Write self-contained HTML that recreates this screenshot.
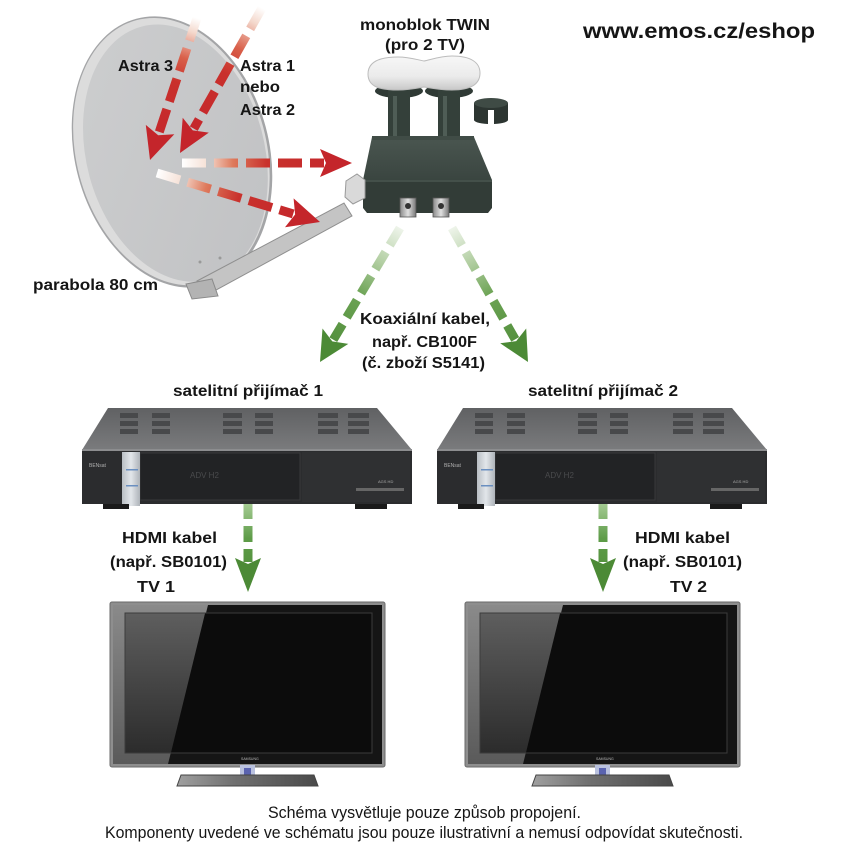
<!DOCTYPE html>
<html><head><meta charset="utf-8">
<style>
html,body{margin:0;padding:0;background:#fff;}
svg{display:block;}
text{font-family:"Liberation Sans",sans-serif;fill:#151515;}
.b{font-weight:bold;font-size:16px;}
.f{font-size:16.5px;}
</style></head><body>
<svg width="850" height="850" viewBox="0 0 850 850" xmlns="http://www.w3.org/2000/svg">
<defs>
 <linearGradient id="dishg" x1="0" y1="0" x2="1" y2="1">
  <stop offset="0" stop-color="#cdcecf"/><stop offset="1" stop-color="#c0c1c3"/>
 </linearGradient>
 <linearGradient id="rA3" gradientUnits="userSpaceOnUse" x1="197" y1="18" x2="150" y2="160">
  <stop offset="0" stop-color="#ffffff"/><stop offset="0.1" stop-color="#f4d8cc"/><stop offset="0.28" stop-color="#d9604a"/><stop offset="0.45" stop-color="#c9302c"/><stop offset="1" stop-color="#c3242b"/>
 </linearGradient>
 <linearGradient id="rA1" gradientUnits="userSpaceOnUse" x1="262" y1="8" x2="180" y2="153">
  <stop offset="0" stop-color="#ffffff"/><stop offset="0.1" stop-color="#f4d8cc"/><stop offset="0.28" stop-color="#d9604a"/><stop offset="0.45" stop-color="#c9302c"/><stop offset="1" stop-color="#c3242b"/>
 </linearGradient>
 <linearGradient id="rH" gradientUnits="userSpaceOnUse" x1="182" y1="163" x2="352" y2="163">
  <stop offset="0" stop-color="#ffffff"/><stop offset="0.14" stop-color="#f6e2d8"/><stop offset="0.3" stop-color="#de7a5c"/><stop offset="0.5" stop-color="#c9322d"/><stop offset="1" stop-color="#c3242b"/>
 </linearGradient>
 <linearGradient id="rD" gradientUnits="userSpaceOnUse" x1="157" y1="173" x2="320" y2="222">
  <stop offset="0" stop-color="#ffffff"/><stop offset="0.14" stop-color="#f6e2d8"/><stop offset="0.3" stop-color="#de7a5c"/><stop offset="0.5" stop-color="#c9322d"/><stop offset="1" stop-color="#c3242b"/>
 </linearGradient>
 <linearGradient id="gL" gradientUnits="userSpaceOnUse" x1="400" y1="228" x2="320" y2="362">
  <stop offset="0" stop-color="#eef4ea"/><stop offset="0.25" stop-color="#b3cfa3"/><stop offset="0.5" stop-color="#6ca354"/><stop offset="1" stop-color="#4a8935"/>
 </linearGradient>
 <linearGradient id="gR" gradientUnits="userSpaceOnUse" x1="452" y1="228" x2="528" y2="362">
  <stop offset="0" stop-color="#eef4ea"/><stop offset="0.25" stop-color="#b3cfa3"/><stop offset="0.5" stop-color="#6ca354"/><stop offset="1" stop-color="#4a8935"/>
 </linearGradient>
 <linearGradient id="gV" gradientUnits="userSpaceOnUse" x1="0" y1="503" x2="0" y2="592">
  <stop offset="0" stop-color="#a6cc94"/><stop offset="0.4" stop-color="#5e9c48"/><stop offset="1" stop-color="#4c8a36"/>
 </linearGradient>
 <linearGradient id="rtop" x1="0" y1="0" x2="0" y2="1">
  <stop offset="0" stop-color="#606163"/><stop offset="1" stop-color="#7a7b7d"/>
 </linearGradient>
 <linearGradient id="silver" x1="0" y1="0" x2="1" y2="0">
  <stop offset="0" stop-color="#b9bec4"/><stop offset="0.5" stop-color="#e2e6ea"/><stop offset="1" stop-color="#aeb3b9"/>
 </linearGradient>
 <linearGradient id="scrref" x1="0" y1="0" x2="0" y2="1">
  <stop offset="0" stop-color="#5e5e5e"/><stop offset="1" stop-color="#2c2c2c"/>
 </linearGradient>
 <linearGradient id="bezref" x1="0" y1="0" x2="0" y2="1">
  <stop offset="0" stop-color="#8a8a8a"/><stop offset="1" stop-color="#5a5a5a"/>
 </linearGradient>
 <linearGradient id="base" x1="0" y1="0" x2="1" y2="0">
  <stop offset="0" stop-color="#a0a0a0"/><stop offset="0.4" stop-color="#707070"/><stop offset="1" stop-color="#4a4a4a"/>
 </linearGradient>
 <linearGradient id="cap" x1="0" y1="0" x2="0" y2="1">
  <stop offset="0" stop-color="#f7f7f7"/><stop offset="0.6" stop-color="#ebebeb"/><stop offset="1" stop-color="#c8c8c8"/>
 </linearGradient>
 <linearGradient id="lnbtop" x1="0" y1="0" x2="0" y2="1">
  <stop offset="0" stop-color="#4a5650"/><stop offset="1" stop-color="#3a4540"/>
 </linearGradient>
 <linearGradient id="nut" x1="0" y1="0" x2="1" y2="0">
  <stop offset="0" stop-color="#8a8a8a"/><stop offset="0.5" stop-color="#e0e0e0"/><stop offset="1" stop-color="#777"/>
 </linearGradient>
</defs>

<!-- Dish -->
<g transform="rotate(-15 172 152)">
 <ellipse cx="172" cy="152" rx="97" ry="138" fill="#a4a5a7"/>
 <ellipse cx="171.5" cy="151.5" rx="95" ry="136" fill="#dcdcdc"/>
 <ellipse cx="175" cy="154" rx="89" ry="131" fill="url(#dishg)"/>
</g>
<circle cx="200" cy="262" r="1.5" fill="#999"/>
<circle cx="220" cy="258" r="1.5" fill="#999"/>
<!-- Arm -->
<polygon points="197,281 344,203 352,216 207,295" fill="#c4c4c4" stroke="#8f8f8f" stroke-width="1"/>
<polygon points="186,284 212,279 218,296 192,299" fill="#b3b3b3" stroke="#8a8a8a" stroke-width="1"/>

<!-- Red arrows -->
<g fill="none" stroke-width="9" stroke-dasharray="24 8">
 <line x1="197" y1="18" x2="158.8" y2="133.4" stroke="url(#rA3)"/>
 <line x1="262" y1="8" x2="193.8" y2="128.6" stroke="url(#rA1)"/>
 <line x1="182" y1="163" x2="324" y2="163" stroke="url(#rH)"/>
 <line x1="157" y1="173" x2="293.2" y2="213.9" stroke="url(#rD)"/>
</g>
<g fill="#c4252b">
 <polygon points="150,160 174.3,134.3 158.2,135.3 145.8,124.9"/>
 <polygon points="180,153 208.8,132.6 192.8,130.4 182.7,117.8"/>
 <polygon points="352,163 320,177 326,163 320,149"/>
 <polygon points="320,222 285,227.2 295.1,214.5 293.6,198.4"/>
</g>

<!-- LNB -->
<g>
 <ellipse cx="399" cy="91" rx="24" ry="7" fill="#2f3a35"/>
 <ellipse cx="449" cy="91" rx="24" ry="7" fill="#2f3a35"/>
 <rect x="388" y="88" width="22" height="55" fill="#34403a"/>
 <rect x="438" y="88" width="22" height="55" fill="#34403a"/>
 <rect x="393" y="96" width="4" height="42" fill="#4f5d56"/>
 <rect x="443" y="96" width="4" height="42" fill="#4f5d56"/>
 <path d="M368,74 C368,60 383,57 398,57 C410,57 418,60 424,61 C430,60 440,56 452,56 C470,56 480,62 480,73 C480,86 468,90 452,90 C440,90 430,88 424,87 C418,88 410,90 398,90 C380,90 368,87 368,74 Z" fill="url(#cap)" stroke="#bcbcbc" stroke-width="1"/>
 <polygon points="372,137 474,137 492,180 363,180" fill="url(#lnbtop)"/>
 <polygon points="363,180 492,180 492,208 488,213 367,213 363,208" fill="#323c37"/>
 <line x1="363" y1="181" x2="492" y2="181" stroke="#56635c" stroke-width="1"/>
 <rect x="372" y="136" width="102" height="4" fill="#404c46"/>
 <!-- small cap -->
 <rect x="474" y="103" width="34" height="17" fill="#2c3531"/>
 <ellipse cx="491" cy="120" rx="17" ry="4" fill="#2c3531"/>
 <ellipse cx="491" cy="103" rx="17" ry="5" fill="#3f4b45"/>
 <rect x="488" y="110" width="6" height="15" fill="#ffffff"/>
 <!-- connectors -->
 <rect x="400" y="198" width="16" height="19" fill="url(#nut)" stroke="#555" stroke-width="0.8"/>
 <rect x="433" y="198" width="16" height="19" fill="url(#nut)" stroke="#555" stroke-width="0.8"/>
 <circle cx="408" cy="206" r="3" fill="#333"/>
 <circle cx="441" cy="206" r="3" fill="#333"/>
 <!-- clamp -->
 <polygon points="346,181 357,174 365,180 365,198 353,204 345,197" fill="#d9d9d9" stroke="#999" stroke-width="1"/>
</g>

<!-- Green arrows -->
<g fill="none" stroke-width="9" stroke-dasharray="20 8">
 <line x1="400" y1="228" x2="333.3" y2="339.7" stroke="url(#gL)"/>
 <line x1="452" y1="228" x2="515.2" y2="339.4" stroke="url(#gR)"/>
 <line x1="248" y1="503" x2="248" y2="562" stroke="url(#gV)" stroke-dasharray="16 7"/>
 <line x1="603" y1="503" x2="603" y2="562" stroke="url(#gV)" stroke-dasharray="16 7"/>
</g>
<g fill="#4c8a36">
 <polygon points="320,362 348.3,343.9 332.3,341.4 322.5,328.5"/>
 <polygon points="528,362 500.2,343.3 516.2,341.1 526.2,328.5"/>
 <polygon points="248,592 235,558 248,564 261,558"/>
 <polygon points="603,592 590,558 603,564 616,558"/>
</g>

<!-- Receivers -->
<g id="rx1">
 <polygon points="108,408 377,408 412,450 82,450" fill="url(#rtop)"/>
 <g fill="#48494b">
  <rect x="120" y="413" width="18" height="5"/><rect x="152" y="413" width="18" height="5"/>
  <rect x="120" y="421" width="18" height="5"/><rect x="152" y="421" width="18" height="5"/>
  <rect x="120" y="429" width="18" height="5"/><rect x="152" y="429" width="18" height="5"/>
  <rect x="223" y="413" width="19" height="5"/><rect x="255" y="413" width="18" height="5"/>
  <rect x="223" y="421" width="19" height="5"/><rect x="255" y="421" width="18" height="5"/>
  <rect x="223" y="429" width="19" height="5"/><rect x="255" y="429" width="18" height="5"/>
  <rect x="318" y="413" width="20" height="5"/><rect x="348" y="413" width="21" height="5"/>
  <rect x="318" y="421" width="20" height="5"/><rect x="348" y="421" width="21" height="5"/>
  <rect x="318" y="429" width="20" height="5"/><rect x="348" y="429" width="21" height="5"/>
 </g>
 <rect x="82" y="449" width="330" height="2" fill="#8c8d8f"/>
 <rect x="82" y="451" width="330" height="53" fill="#2b2c2e"/>
 <rect x="140" y="453" width="160" height="47" fill="#222325" stroke="#38393b" stroke-width="1"/>
 <rect x="302" y="452" width="108" height="50" fill="#2f3032"/>
 <rect x="122" y="452" width="18" height="54" fill="url(#silver)"/>
 <rect x="126" y="469" width="12" height="1.5" fill="#6a8fc0"/>
 <rect x="126" y="485" width="12" height="1.5" fill="#6a8fc0"/>
 <text x="89" y="467" font-size="5" style="fill:#b0b0b0">BENsat</text>
 <text x="190" y="478" font-size="8" style="fill:#4a4b4d">ADV H2</text>
 <text x="378" y="483" font-size="4" style="fill:#aaa">AGS HD</text>
 <rect x="356" y="488" width="48" height="3" fill="#666"/>
 <rect x="103" y="504" width="26" height="5" fill="#1a1a1a"/>
 <rect x="355" y="504" width="32" height="5" fill="#1a1a1a"/>
</g>
<use href="#rx1" transform="translate(355,0)"/>

<!-- TVs -->
<g id="tv1">
 <rect x="110" y="602" width="275" height="165" rx="2" fill="#8e8e8e" stroke="#6a6a6a" stroke-width="1"/>
 <rect x="113" y="605" width="269" height="159" fill="#151515"/>
 <polygon points="113,605 208,605 168,764 113,764" fill="url(#bezref)"/>
 <rect x="125" y="613" width="247" height="140" fill="#0c0c0c" stroke="#2a2a2a" stroke-width="1"/>
 <polygon points="125.5,613.5 205,613.5 171,752.5 125.5,752.5" fill="url(#scrref)"/>
 <rect x="125" y="613" width="247" height="140" fill="none" stroke="#3c3c3c" stroke-width="1"/>
 <text x="241" y="760" font-size="3.5" style="fill:#bbb">SAMSUNG</text>
 <rect x="240" y="765" width="15" height="14" fill="#b9c1de"/>
 <rect x="244" y="768" width="7" height="9" fill="#5a63b0"/>
 <polygon points="181,775 314,775 318,786 177,786" fill="url(#base)" stroke="#444" stroke-width="1"/>
</g>
<use href="#tv1" transform="translate(355,0)"/>

<!-- Texts -->
<text x="583" y="38" font-size="21" font-weight="bold" textLength="232" lengthAdjust="spacingAndGlyphs">www.emos.cz/eshop</text>
<text class="b" x="360" y="30" textLength="130" lengthAdjust="spacingAndGlyphs">monoblok TWIN</text>
<text class="b" x="385" y="50" textLength="80" lengthAdjust="spacingAndGlyphs">(pro 2 TV)</text>
<text class="b" x="118" y="71" textLength="55" lengthAdjust="spacingAndGlyphs">Astra 3</text>
<text class="b" x="240" y="71" textLength="55" lengthAdjust="spacingAndGlyphs">Astra 1</text>
<text class="b" x="240" y="92" textLength="40" lengthAdjust="spacingAndGlyphs">nebo</text>
<text class="b" x="240" y="115" textLength="55" lengthAdjust="spacingAndGlyphs">Astra 2</text>
<text class="b" x="33" y="290" textLength="125" lengthAdjust="spacingAndGlyphs">parabola 80 cm</text>
<text class="b" x="360" y="324" textLength="130" lengthAdjust="spacingAndGlyphs">Koaxiální kabel,</text>
<text class="b" x="372" y="347" textLength="105" lengthAdjust="spacingAndGlyphs">např. CB100F</text>
<text class="b" x="362" y="368" textLength="123" lengthAdjust="spacingAndGlyphs">(č. zboží S5141)</text>
<text class="b" x="173" y="396" textLength="150" lengthAdjust="spacingAndGlyphs">satelitní přijímač 1</text>
<text class="b" x="528" y="396" textLength="150" lengthAdjust="spacingAndGlyphs">satelitní přijímač 2</text>
<text class="b" x="122" y="543" textLength="95" lengthAdjust="spacingAndGlyphs">HDMI kabel</text>
<text class="b" x="110" y="567" textLength="117" lengthAdjust="spacingAndGlyphs">(např. SB0101)</text>
<text class="b" x="137" y="592" textLength="38" lengthAdjust="spacingAndGlyphs">TV 1</text>
<text class="b" x="635" y="543" textLength="95" lengthAdjust="spacingAndGlyphs">HDMI kabel</text>
<text class="b" x="623" y="567" textLength="119" lengthAdjust="spacingAndGlyphs">(např. SB0101)</text>
<text class="b" x="670" y="592" textLength="37" lengthAdjust="spacingAndGlyphs">TV 2</text>
<text class="f" x="268" y="818" textLength="313" lengthAdjust="spacingAndGlyphs">Schéma vysvětluje pouze způsob propojení.</text>
<text class="f" x="105" y="838" textLength="638" lengthAdjust="spacingAndGlyphs">Komponenty uvedené ve schématu jsou pouze ilustrativní a nemusí odpovídat skutečnosti.</text>
</svg>
</body></html>
